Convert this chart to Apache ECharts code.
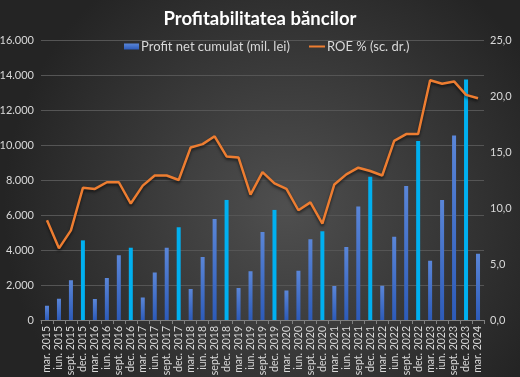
<!DOCTYPE html>
<html>
<head>
<meta charset="utf-8">
<script src="https://cdn.jsdelivr.net/npm/echarts@6/dist/echarts.min.js"></script>
<style>
  html, body { margin: 0; padding: 0; background: #2b2b2b; }
  #chart { width: 520px; height: 377px; }
</style>
</head>
<body>
<div id="chart"></div>
<script>
  var categories = [
    'mar. 2015', 'iun. 2015', 'sept. 2015', 'dec. 2015',
    'mar. 2016', 'iun. 2016', 'sept. 2016', 'dec. 2016',
    'mar. 2017', 'iun. 2017', 'sept. 2017', 'dec. 2017',
    'mar. 2018', 'iun. 2018', 'sept. 2018', 'dec. 2018',
    'mar. 2019', 'iun. 2019', 'sept. 2019', 'dec. 2019',
    'mar. 2020', 'iun. 2020', 'sept. 2020', 'dec. 2020',
    'mar. 2021', 'iun. 2021', 'sept. 2021', 'dec. 2021',
    'mar. 2022', 'iun. 2022', 'sept. 2022', 'dec. 2022',
    'mar. 2023', 'iun. 2023', 'sept. 2023', 'dec. 2023',
    'mar. 2024'
  ]
  // profit net cumulat, mil. lei
  var profit = [
    820, 1220, 2270, 4550,
    1200, 2400, 3700, 4130,
    1280, 2720, 4130, 5300,
    1770, 3600, 5770, 6860,
    1830, 2780, 5030, 6290,
    1680, 2820, 4610, 5070,
    1940, 4170, 6490, 8190,
    1960, 4760, 7660, 10230,
    3390, 6860, 10550, 13750,
    3790
  ]
  // ROE %, scala dreapta
  var roe = [
    8.9, 6.4, 8.0, 11.8,
    11.7, 12.3, 12.3, 10.4,
    12.0, 12.9, 12.9, 12.5,
    15.4, 15.7, 16.4, 14.6,
    14.5, 11.2, 13.2, 12.2,
    11.7, 9.8, 10.5, 8.6,
    12.1, 13.0, 13.6, 13.3,
    12.9, 16.0, 16.6, 16.6,
    21.4, 21.1, 21.3, 20.1,
    19.8
  ]
  var leftTicks = [0, 2000, 4000, 6000, 8000, 10000, 12000, 14000, 16000]
  var rightTicks = [0, 5, 10, 15, 20, 25]

  var txt = '#d9d9d9'
  var font = 'Lato, "Open Sans", sans-serif'

  var blueBar = new echarts.graphic.LinearGradient(0, 0, 0, 1, [
    { offset: 0, color: '#5a86d8' },
    { offset: 1, color: '#2d5bb9' }
  ])

  var barData = profit.map(function (v, i) {
    if (categories[i].indexOf('dec.') === 0) {
      return { value: v, itemStyle: { color: '#00b0f0' } }
    }
    return v
  })

  var myChart = echarts.init(document.getElementById('chart'))
  myChart.setOption({
    backgroundColor: new echarts.graphic.RadialGradient(0.55, 0.55, 0.75, [
      { offset: 0, color: '#4f4f4f' },
      { offset: 1, color: '#242424' }
    ]),
    textStyle: { fontFamily: font },
    title: {
      text: 'Profitabilitatea băncilor',
      left: 'center',
      top: 5,
      textStyle: { color: '#ffffff', fontSize: 18.5, fontWeight: 'bold', fontFamily: font }
    },
    legend: [{
      data: ['Profit net cumulat (mil. lei)'],
      left: 119,
      top: 35,
      icon: 'rect',
      itemWidth: 15,
      itemHeight: 6,
      itemGap: 2,
      textStyle: { color: txt, fontSize: 13, padding: [0, 0, 0, -3] }
    }, {
      data: ['ROE % (sc. dr.)'],
      left: 304,
      top: 35,
      icon: 'rect',
      itemWidth: 16,
      itemHeight: 2,
      textStyle: { color: txt, fontSize: 13, padding: [0, 0, 0, -3] }
    }],
    grid: {
      left: 41,
      right: 36,
      top: 40,
      bottom: 57,
      outerBoundsMode: 'none'
    },
    xAxis: {
      type: 'category',
      data: categories,
      axisLine: { lineStyle: { color: '#808080', width: 1 } },
      axisTick: { show: true, length: 4, lineStyle: { color: '#808080' } },
      axisLabel: {
        interval: 0,
        rotate: 90,
        margin: 6,
        color: txt,
        fontSize: 10.5
      }
    },
    yAxis: [{
      type: 'value',
      min: leftTicks[0],
      max: leftTicks[leftTicks.length - 1],
      interval: leftTicks[1] - leftTicks[0],
      axisLine: { show: false },
      axisTick: { show: false },
      splitLine: { lineStyle: { color: '#555555', width: 1 } },
      axisLabel: {
        color: txt,
        fontSize: 11,
        margin: 7,
        formatter: function (v) {
          return String(v).replace(/\B(?=(\d{3})+(?!\d))/g, '.')
        }
      }
    }, {
      type: 'value',
      min: rightTicks[0],
      max: rightTicks[rightTicks.length - 1],
      interval: rightTicks[1] - rightTicks[0],
      axisLine: { show: false },
      axisTick: { show: false },
      splitLine: { show: false },
      axisLabel: {
        color: txt,
        fontSize: 11,
        margin: 6,
        formatter: function (v) {
          return v.toFixed(1).replace('.', ',')
        }
      }
    }],
    series: [{
      name: 'Profit net cumulat (mil. lei)',
      type: 'bar',
      barWidth: 4,
      itemStyle: { color: blueBar },
      data: barData
    }, {
      name: 'ROE % (sc. dr.)',
      type: 'line',
      yAxisIndex: 1,
      symbol: 'none',
      itemStyle: { color: '#ed7d31' },
      lineStyle: {
        color: '#ed7d31',
        width: 2.5,
        shadowColor: 'rgba(0,0,0,0.6)',
        shadowBlur: 3,
        shadowOffsetY: 2
      },
      data: roe
    }]
  })
</script>
</body>
</html>
